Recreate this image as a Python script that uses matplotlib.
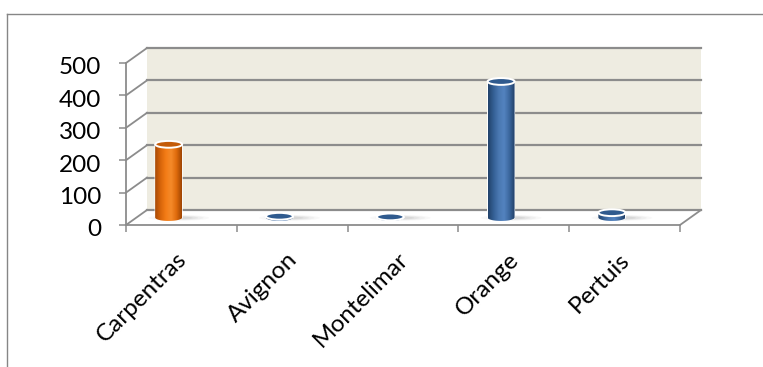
import numpy as np
import matplotlib
matplotlib.use("Agg")
from matplotlib import pyplot as plt
from matplotlib import transforms
from matplotlib.patches import Ellipse, Polygon
from matplotlib.lines import Line2D

categories = ["Carpentras", "Avignon", "Montelimar", "Orange", "Pertuis"]
values = [226, 4, 2, 420, 15]
bar_colors = ["orange", "blue", "blue", "blue", "blue"]
yticks = [0, 100, 200, 300, 400, 500]

plt.rcParams['font.family'] = ['Lato', 'DejaVu Sans']

W, H = 763, 367
fig = plt.figure(figsize=(W / 100, H / 100), dpi=100)

# front plane of the 3d box, in pixels
px_left, px_right = 126, 680
px_zero, px_top = 225, 63
ax = fig.add_axes([px_left / W, 1 - px_zero / H,
                   (px_right - px_left) / W, (px_zero - px_top) / H])
ax.set_xlim(-0.5, len(categories) - 0.5)
ax.set_ylim(0, 500)
ax.patch.set_visible(False)

cat_px = (px_right - px_left) / len(categories)
val_px = (px_zero - px_top) / 500.0
dx = 21 / cat_px          # depth offset (category units)
dy = 15 / val_px          # depth offset (value units)

grid_c = "#8c8c8c"
x0, x1 = -0.5, len(categories) - 0.5

# back wall
ax.add_patch(Polygon([(x0 + dx, dy), (x1 + dx, dy), (x1 + dx, 500 + dy), (x0 + dx, 500 + dy)],
                     closed=True, fc="#eeece1", ec="none", clip_on=False, zorder=0))
for v in yticks:
	ax.plot([x0 + dx, x1 + dx], [v + dy, v + dy], color=grid_c, lw=1.6, clip_on=False, zorder=1)
	ax.plot([x0, x0 + dx], [v, v + dy], color=grid_c, lw=1.3, clip_on=False, zorder=1)
# floor edges
ax.plot([x1, x1 + dx], [0, dy], color=grid_c, lw=1.3, clip_on=False, zorder=1)

# axes lines and ticks
for s in ["top", "right"]:
	ax.spines[s].set_visible(False)
for s in ["left", "bottom"]:
	ax.spines[s].set_color(grid_c)
	ax.spines[s].set_linewidth(1.3)
ax.set_yticks(yticks)
ax.set_yticklabels([str(v) for v in yticks])
ax.tick_params(axis="y", length=5, width=1.1, color=grid_c, labelsize=17.5, pad=13)
shift = transforms.ScaledTranslation(0, -3 / 100, fig.dpi_scale_trans)
for lab in ax.get_yticklabels():
	lab.set_transform(lab.get_transform() + shift)
ax.set_xticks(np.arange(len(categories) + 1) - 0.5)
ax.set_xticklabels([])
ax.tick_params(axis="x", length=5, width=1.1, color=grid_c)

for i, name in enumerate(categories):
	ax.text(i + 0.015, -96, name, rotation=45, ha="right", va="center",
			rotation_mode="anchor", fontsize=17.5, color="#000000", clip_on=False)

# cylinders
palettes = {
	"orange": (["#a84a05", "#d8650a", "#f47c16", "#f58a2a", "#e06b0c", "#9e4504"], "#c45c0a"),
	"blue": (["#22436b", "#345f94", "#4a78b2", "#5383bf", "#3b679e", "#213f66"], "#2f5a8e"),
}
rx = 13.5 / cat_px
ry = 3.4 / val_px
base = 23
off = -0.115

for i, (v, c) in enumerate(zip(values, bar_colors)):
	cx = i + off
	top = base + v
	stops, top_c = palettes[c]
	cmap = matplotlib.colors.LinearSegmentedColormap.from_list("cyl", stops)

	# floor shadow
	for k, a in enumerate([0.05, 0.07, 0.09, 0.12]):
		sc = 1.0 - 0.18 * k
		ax.add_patch(Ellipse((cx + 0.09, base - 1), 0.55 * sc, 18 * sc, fc="#808080",
							 ec="none", alpha=a, clip_on=False, zorder=2))

	# body: side walls + bottom half ellipse
	t = np.linspace(np.pi, 2 * np.pi, 40)
	pts = [(cx - rx, top)]
	pts += [(cx + rx * np.cos(a), base + ry * np.sin(a)) for a in t]
	pts += [(cx + rx, top)]
	body = Polygon(pts, closed=True, fc="none", ec="white", lw=0.8, clip_on=False, zorder=3)
	ax.add_patch(body)
	grad = np.linspace(0, 1, 64).reshape(1, -1)
	im = ax.imshow(grad, cmap=cmap, aspect="auto", extent=[cx - rx, cx + rx, base - ry, top],
				   zorder=3, interpolation="bilinear")
	im.set_clip_path(body)
	ax.add_patch(Ellipse((cx, top), 2 * rx, 2 * ry, fc=top_c, ec="white", lw=1.4,
						 clip_on=False, zorder=4))

ax.set_xlim(-0.5, len(categories) - 0.5)
ax.set_ylim(0, 500)

# outer chart frame
fig.add_artist(Line2D([7 / W, 7 / W], [0, 1 - 14 / H], color="#868686", lw=1.0))
fig.add_artist(Line2D([7 / W, 1], [1 - 14 / H, 1 - 14 / H], color="#868686", lw=1.0))

fig.savefig("out.png", dpi=100)
